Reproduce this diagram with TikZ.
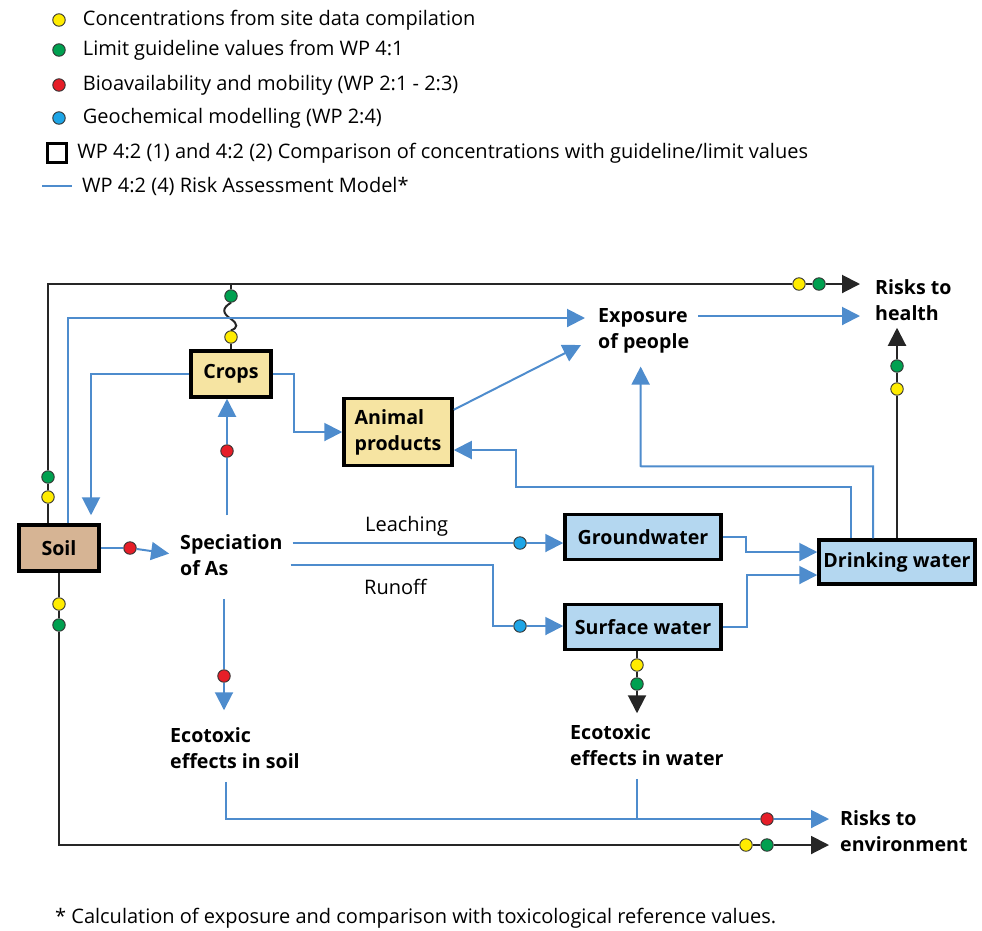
\documentclass[tikz,border=0pt]{standalone}
\usepackage{fontspec}
\setmainfont{Open Sans}
\usetikzlibrary{arrows.meta}
\usetikzlibrary{positioning}
\definecolor{flowblue}{RGB}{78,140,205}
\definecolor{dotyellow}{RGB}{255,236,0}
\definecolor{dotgreen}{RGB}{0,160,80}
\definecolor{dotred}{RGB}{230,30,40}
\definecolor{dotcyan}{RGB}{30,165,230}
\definecolor{waterfill}{RGB}{180,215,240}
\definecolor{cropfill}{RGB}{246,228,162}
\definecolor{soilfill}{RGB}{214,180,148}
\newcommand{\fsz}{\fontsize{20}{26}\selectfont}
\newcommand{\fszb}{\fontsize{19.6}{26}\selectfont\bfseries}
\tikzset{
  dot/.style={circle, draw=black!80, line width=0.9pt, minimum size=12.5pt, inner sep=0pt},
  ydot/.style={dot, fill=dotyellow},
  gdot/.style={dot, fill=dotgreen},
  rdot/.style={dot, fill=dotred},
  cdot/.style={dot, fill=dotcyan},
  box/.style={draw=black, line width=3.5pt, inner sep=2pt, font=\fszb},
  soilbox/.style={box, fill=soilfill, minimum width=80pt, minimum height=46pt},
  cropbox/.style={box, fill=cropfill, minimum width=80pt, minimum height=46pt},
  waterbox/.style={box, fill=waterfill, minimum width=156pt, minimum height=45pt},
  lbl/.style={font=\fszb, align=left, inner sep=1pt, anchor=west},
  note/.style={font=\fsz, inner sep=1pt, anchor=west},
  bl/.style={draw=flowblue, line width=2pt},
  bk/.style={draw=black!85, line width=2pt},
  tipb/.style={-{Triangle[length=18pt,width=18pt]}}
}
\begin{document}
\begin{tikzpicture}[x=1pt, y=-1pt]
\useasboundingbox (0,0) rectangle (982,930);
% legend
\node[ydot] (ly) at (59,20) {};
\node[gdot] (lg) at (59,50) {};
\node[rdot] (lr) at (59,85) {};
\node[cdot] (lc) at (59,118) {};
\node[draw, line width=3.5pt, minimum size=19pt, inner sep=0pt] (lsq) at (57,153) {};
\coordinate (lla) at (42,186);
\coordinate (llb) at (72,186);
\draw[bl, line width=1.3pt] (lla) -- (llb);
\node[note, right=16pt of ly] (t1) {Concentrations from site data compilation};
\node[note, right=16pt of lg] (t2) {Limit guideline values from WP 4:1};
\node[note, right=16pt of lr] (t3) {Bioavailability and mobility (WP 2:1 - 2:3)};
\node[note, right=16pt of lc] (t4) {Geochemical modelling (WP 2:4)};
\node[note, right=8pt of lsq] (t5) {WP 4:2 (1) and 4:2 (2) Comparison of concentrations with guideline/limit values};
\node[note, right=9pt of llb] (t6) {WP 4:2 (4) Risk Assessment Model*};

% boxes
\node[soilbox] (soil) at (59,548) {Soil};
\node[cropbox] (crops) at (231,374) {Crops};
\node[cropbox, align=left, minimum width=108pt, minimum height=67pt] (animal) at (398,432) {Animal\\products};
\node[waterbox] (ground) at (643,537) {Groundwater};
\node[waterbox] (surface) at (643,627) {Surface water};
\node[waterbox, minimum height=44pt] (drink) at (897,562) {Drinking water};

% labels
\node[lbl] (spec) at (179,555) {Speciation\\of As};
\node[lbl] (expo) at (597,331) {Exposure\\of people};
\node[lbl] (health) at (874,300) {Risks to\\health};
\node[lbl] (ecosoil) at (169,748) {Ecotoxic\\effects in soil};
\node[lbl] (ecowater) at (569,745) {Ecotoxic\\effects in water};
\node[lbl] (env) at (839,831) {Risks to\\environment};
\node[note] (leach) at (364,526) {Leaching};
\node[note] (runoff) at (363,587) {Runoff};

% dots on the connectors
\node[gdot] (gL) at (48,477) {};
\node[ydot] (yL) at (48,497) {};
\node[ydot] (yH) at (799,284) {};
\node[gdot] (gH) at (819,284) {};
\node[gdot] (gC) at (231,296) {};
\node[ydot] (yC) at (231,337) {};
\node[ydot] (yB) at (59,604) {};
\node[gdot] (gB) at (59,625) {};
\node[ydot] (yE) at (746,845) {};
\node[gdot] (gE) at (767,845) {};
\node[gdot] (gD) at (897,366) {};
\node[ydot] (yD) at (897,389) {};
\node[ydot] (yS) at (637,665) {};
\node[gdot] (gS) at (637,684) {};
\node[rdot] (rS) at (130,548) {};
\node[rdot] (rC) at (227,451) {};
\node[rdot] (rD) at (224,676) {};
\node[cdot] (cG) at (520,543) {};
\node[cdot] (cS) at (520,626) {};
\node[rdot] (rE) at (767,819) {};
\coordinate (eS) at (226,819);
\coordinate (eW) at (637,819);

% black connectors
\draw[bk] (yL |- soil.north) -- (yL) -- (gL) -- (gL |- yH) -- (yH) -- (gH);
\draw[bk, tipb, shorten >=14pt] (gH) -- (gH -| health.west);
\draw[bk] (crops.north) -- (yC);
\draw[bk] (yC.north) .. controls (238,328) and (238,324) .. (231,319)
  .. controls (222,313) and (222,308) .. (gC.south);
\draw[bk] (gC) -- (gC |- yH);
\draw[bk] (yB |- soil.south) -- (yB) -- (gB) -- (gB |- yE) -- (yE) -- (gE);
\draw[bk, tipb, shorten >=10pt] (gE) -- (gE -| env.west);
\draw[bk] (drink.north) -- (yD) -- (gD);
\draw[bk, tipb, shorten >=6pt] (gD) -- (gD |- health.south);
\draw[bk] (yS |- surface.south) -- (yS) -- (gS);
\draw[bk, tipb, shorten >=10pt] (gS) -- (gS |- ecowater.north);

% blue connectors
\draw[bl] (soil.east) -- (rS);
\draw[bl, tipb, shorten >=10pt] (rS) -- (spec.west);
\draw[bl, tipb, shorten >=12pt] ([xshift=9pt]soil.north) |- ([yshift=13pt]expo.west);
\draw[bl, tipb, shorten >=8pt] (crops.west) -| ([xshift=32pt]soil.north);
\draw[bl, tipb] (crops.east) -- ++(21,0) |- (animal.west);
\draw[bl, tipb] ([yshift=-13pt]animal.north east) -- ([xshift=-16pt,yshift=-14pt]expo.west);
\draw[bl, shorten <=18pt] (rC |- spec.north) -- (rC);
\draw[bl, tipb] (rC) -- (rC |- crops.south);
\draw[bl, shorten <=22pt] (rD |- spec.south) -- (rD);
\draw[bl, tipb, shorten >=16pt] (rD) -- (rD |- ecosoil.north);
\draw[bl, shorten <=9pt] (spec.east |- cG) -- (cG);
\draw[bl, tipb] (cG) -- (cG -| ground.west);
\draw[bl, shorten <=7pt] ([yshift=-10pt]spec.east) -| ([xshift=-27pt]cS.center) -- (cS);
\draw[bl, tipb] (cS) -- (cS -| surface.west);
\draw[bl, tipb] (ground.east) -- ++(23,0) |- ([yshift=10pt]drink.west);
\draw[bl, tipb] (surface.east) -- ++(24,0) |- ([yshift=-13pt]drink.west);
\draw[bl, tipb] ([xshift=-46pt]drink.north) |- ++(-335,-51) |- ([yshift=-18pt]animal.east);
\draw[bl, tipb, shorten >=12pt] ([xshift=-24pt]drink.north) |- ++(-232,-72) -- ([xshift=-3pt]expo.south |- 0,466) -- ([xshift=-3pt]expo.south);
\draw[bl, tipb, shorten <=8pt, shorten >=14pt] ([yshift=15pt]expo.east) -- ([yshift=-16pt]health.west);
\draw[bl, shorten <=12pt] (eS |- ecosoil.south) -- (eS) -- (rE);
\draw[bl, shorten <=12pt] (eW |- ecowater.south) -- (eW);
\draw[bl, tipb, shorten >=10pt] (rE) -- (rE -| env.west);

% footnote
\node[note] (foot) at (54,918) {* Calculation of exposure and comparison with toxicological reference values.};
\end{tikzpicture}
\end{document}
